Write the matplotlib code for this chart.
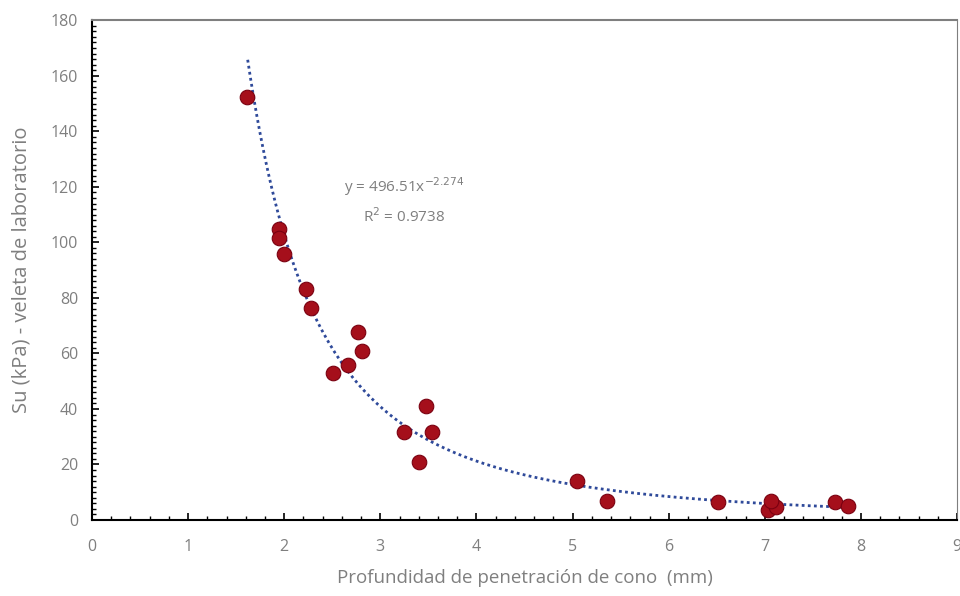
import numpy as np
import matplotlib.pyplot as plt
from matplotlib.ticker import MultipleLocator

# Datos
profundidad = [1.61, 1.95, 1.95, 2.00, 2.23, 2.28, 2.77, 2.81, 2.66, 2.51,
               3.47, 3.25, 3.54, 3.40, 5.05, 5.36, 6.51, 7.08, 7.03, 7.12,
               7.06, 7.73, 7.87]
su = [152.3, 104.8, 101.5, 95.8, 83.2, 76.3, 67.7, 60.8, 55.8, 52.9,
      41.0, 31.7, 31.7, 20.9, 14.0, 6.8, 6.5, 5.4, 3.6, 4.7,
      6.8, 6.5, 5.0]

# Línea de tendencia potencial
a = 496.51
b = -2.274

plt.rcParams['font.family'] = ['Open Sans', 'DejaVu Sans']
gris = '#7f7f7f'

fig = plt.figure(figsize=(9.6, 5.96), dpi=100)
ax = fig.add_axes([0.0958, 0.1275, 0.9012, 0.8385])

xs = np.linspace(min(profundidad) + 0.01, max(profundidad), 200)
ax.plot(xs, a * xs ** b, linestyle=(0, (1, 1.2)), color='#2F4A9A', linewidth=2, zorder=3)
ax.scatter(profundidad, su, s=110, color='#A50F1B', edgecolors='#7A0010', linewidths=0.8, zorder=4)

ax.set_xlim(0, 9)
ax.set_ylim(0, 180)
ax.xaxis.set_major_locator(MultipleLocator(1))
ax.xaxis.set_minor_locator(MultipleLocator(0.2))
ax.yaxis.set_major_locator(MultipleLocator(20))
ax.yaxis.set_minor_locator(MultipleLocator(2))
ax.tick_params(which='both', direction='in', colors='black', labelcolor=gris, labelsize=11.5)
ax.tick_params(which='major', length=5, width=1.2)
ax.tick_params(which='minor', length=3, width=1)
ax.tick_params(axis='x', pad=14)
ax.tick_params(axis='y', pad=10)

ax.spines['left'].set_color('black')
ax.spines['bottom'].set_color('black')
ax.spines['left'].set_linewidth(1.5)
ax.spines['bottom'].set_linewidth(1.5)
ax.spines['top'].set_color('#7f7f7f')
ax.spines['right'].set_color('#7f7f7f')
ax.spines['top'].set_linewidth(1.5)

ax.set_xlabel('Profundidad de penetración de cono  (mm)', color=gris, fontsize=13.5, labelpad=10)
ax.set_ylabel('Su (kPa) - veleta de laboratorio', color=gris, fontsize=14.5, labelpad=14)

ax.text(3.25, 115, 'y = 496.51x$^{-2.274}$\nR$^2$ = 0.9738', color=gris, fontsize=11,
        ha='center', va='center', linespacing=1.6)

fig.savefig('out.png', dpi=100)
